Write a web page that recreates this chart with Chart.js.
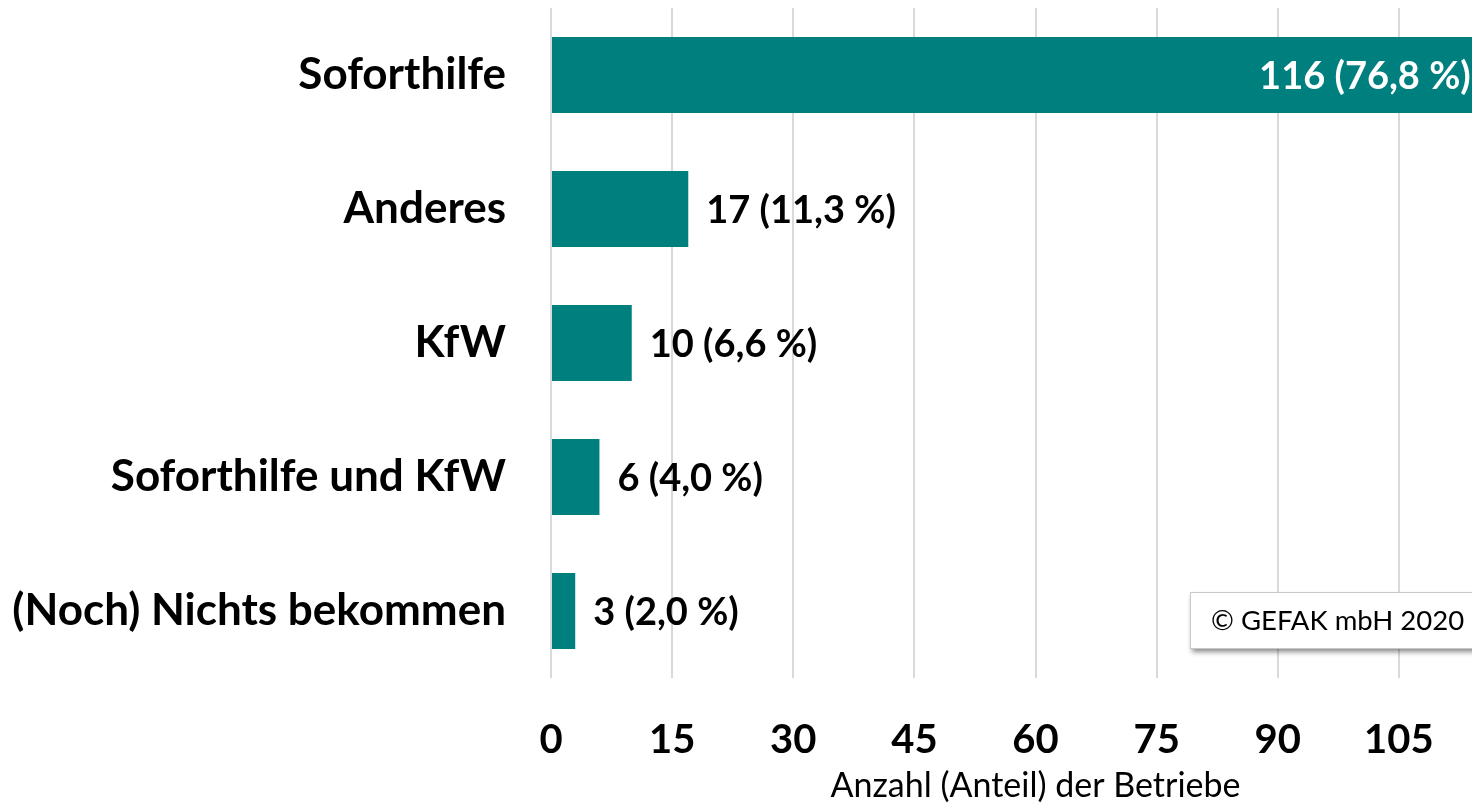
<!DOCTYPE html>
<html>
<head>
<meta charset="utf-8">
<script src="https://cdn.jsdelivr.net/npm/chart.js@4/dist/chart.umd.min.js"></script>
<style>
  html, body { margin: 0; padding: 0; background: #ffffff; overflow: hidden; }
  #wrap { width: 1472px; height: 806px; overflow: hidden; position: relative; }
  canvas { display: block; }
</style>
</head>
<body>
<div id="wrap"><canvas id="c" width="1560" height="806"></canvas></div>
<script>
const categories = ["Soforthilfe", "Anderes", "KfW", "Soforthilfe und KfW", "(Noch) Nichts bekommen"];
const counts = [116, 17, 10, 6, 3];
const shares = ["76,8", "11,3", "6,6", "4,0", "2,0"];
const xTicks = [0, 15, 30, 45, 60, 75, 90, 105, 120];
const axisTitle = "Anzahl (Anteil) der Betriebe";
const copyright = "© GEFAK mbH 2020";

const FONT = "Lato, 'Open Sans', sans-serif";
const TEAL = "#007F7F";

const valueLabels = {
  id: "valueLabels",
  afterDatasetsDraw(chart) {
    const ctx = chart.ctx;
    const meta = chart.getDatasetMeta(0);
    ctx.save();
    ctx.font = "bold 38px " + FONT;
    ctx.textBaseline = "middle";
    meta.data.forEach((bar, i) => {
      const txt = counts[i] + " (" + shares[i] + " %)";
      const w = ctx.measureText(txt).width;
      const inside = bar.x + 18 + w > 1472;
      if (inside) {
        ctx.fillStyle = "#ffffff";
        ctx.textAlign = "right";
        ctx.fillText(txt, bar.x - 17, bar.y + 2);
      } else {
        ctx.fillStyle = "#000000";
        ctx.textAlign = "left";
        ctx.fillText(txt, bar.x + 18, bar.y + 2);
      }
    });
    ctx.restore();
  }
};

const copyrightBox = {
  id: "copyrightBox",
  afterDraw(chart) {
    const ctx = chart.ctx;
    ctx.save();
    const x = 1190, y = 592, w = 320, h = 56;
    ctx.shadowColor = "rgba(0,0,0,0.45)";
    ctx.shadowBlur = 5;
    ctx.shadowOffsetX = 2;
    ctx.shadowOffsetY = 4;
    ctx.fillStyle = "#ffffff";
    ctx.fillRect(x, y, w, h);
    ctx.shadowColor = "transparent";
    ctx.strokeStyle = "#c8c8c8";
    ctx.lineWidth = 1;
    ctx.strokeRect(x + 0.5, y + 0.5, w, h);
    ctx.fillStyle = "#000000";
    ctx.font = "27.5px " + FONT;
    ctx.textAlign = "left";
    ctx.textBaseline = "middle";
    ctx.fillText(copyright, 1211, y + h / 2 + 1);
    ctx.restore();
  }
};

new Chart(document.getElementById("c"), {
  type: "bar",
  data: {
    labels: categories,
    datasets: [{
      data: counts,
      backgroundColor: TEAL,
      borderWidth: 0,
      barPercentage: 0.567,
      categoryPercentage: 1.0
    }]
  },
  options: {
    indexAxis: "y",
    responsive: false,
    animation: false,
    devicePixelRatio: 1,
    layout: { padding: { top: 8, right: 40, bottom: 0, left: 0 } },
    plugins: { legend: { display: false }, tooltip: { enabled: false } },
    scales: {
      x: {
        min: 0,
        max: 120,
        afterBuildTicks(scale) { scale.ticks = xTicks.map(v => ({ value: v })); },
        afterFit(scale) {
          scale.height = 128;
          scale.paddingLeft = 0;
          scale.paddingRight = 0;
        },
        grid: { color: "#d9d9d9", lineWidth: 2, drawTicks: false },
        border: { display: false },
        ticks: {
          color: "#000000",
          font: { family: FONT, size: 40, weight: "bold" },
          padding: 38,
          maxRotation: 0
        },
        title: {
          display: true,
          text: axisTitle,
          color: "#000000",
          font: { family: FONT, size: 34, weight: "normal" },
          padding: { top: 0, bottom: 0 }
        }
      },
      y: {
        afterFit(scale) {
          scale.width = 551;
          scale.paddingTop = 0;
          scale.paddingBottom = 0;
        },
        grid: { display: false, drawTicks: false },
        border: { display: false },
        ticks: {
          color: "#000000",
          font: { family: FONT, size: 44, weight: "bold" },
          padding: 45
        }
      }
    }
  },
  plugins: [valueLabels, copyrightBox]
});
</script>
</body>
</html>
